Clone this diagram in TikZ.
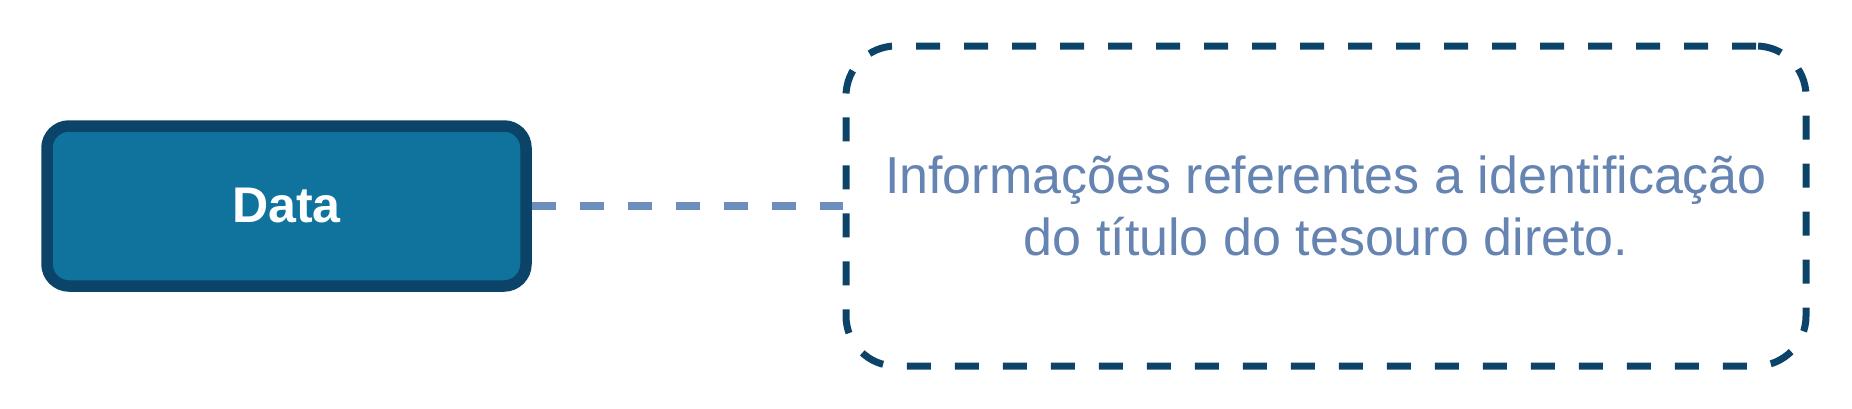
\documentclass[tikz,border=0pt]{standalone}
\usepackage{fontspec}
\setmainfont{Liberation Sans}
\usepackage{xcolor}
\usetikzlibrary{positioning, calc}

\definecolor{entityfill}{HTML}{10739E}
\definecolor{entitydraw}{HTML}{0B4468}
\definecolor{notelink}{HTML}{6C8EBF}
\definecolor{notetext}{HTML}{6584B2}

\begin{document}
\begin{tikzpicture}[
  entity/.style={rectangle, rounded corners=0.44cm, draw=entitydraw, fill=entityfill,
                 line width=0.23cm, minimum width=9.58cm, minimum height=3.2cm,
                 text=white, font=\fontsize{28.5}{34}\selectfont\bfseries},
  notebox/.style={rectangle, rounded corners=1cm, draw=entitydraw,
                  line width=0.14cm, dash pattern=on 0.48cm off 0.48cm,
                  minimum width=19.2cm, minimum height=6.4cm,
                  align=center, text=notetext,
                  font=\fontsize{29.6}{35.7}\selectfont},
  link/.style={notelink, line width=0.16cm, dash pattern=on 0.48cm off 0.48cm},
]

\useasboundingbox (0,0) rectangle (37.04,8.16);

%% Attribute
\node[entity] (data) at (5.73, 4.04) {Data};

%% Description note
\node[notebox] (info) at (26.52, 4.04)
      {Informações referentes a identificação\\ do título do tesouro direto.};

%% Link: attribute -> note
\draw[link] (data.east) -- (info.west);

\end{tikzpicture}
\end{document}
